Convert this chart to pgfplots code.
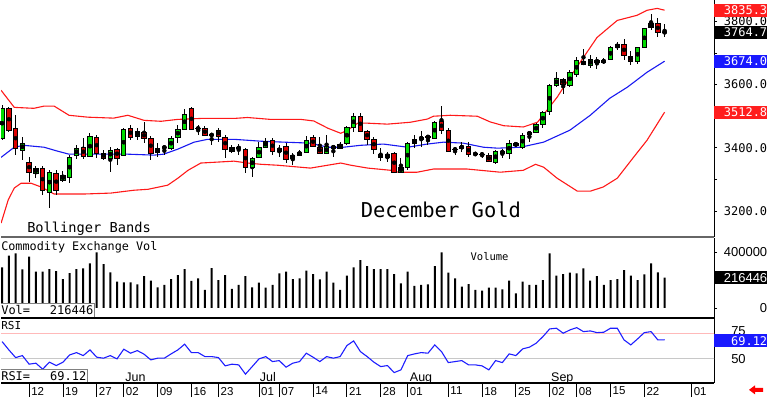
\documentclass[border=0pt]{standalone}
\usepackage{pgfplots}
\usepackage{pgfplotstable}
\pgfplotsset{compat=1.18}
\usepackage{fontspec}
\setmainfont{Liberation Sans}
\newfontfamily\mono{DejaVu Sans Mono}
\definecolor{cgreen}{RGB}{0,220,0}
\definecolor{cred}{RGB}{220,0,0}
\definecolor{bandred}{RGB}{255,25,25}
\definecolor{bandblue}{RGB}{25,25,240}
\definecolor{rsiblue}{RGB}{30,30,255}
\definecolor{boxred}{RGB}{255,30,30}
\definecolor{boxblue}{RGB}{25,25,255}
\definecolor{pinkline}{RGB}{255,185,185}
\definecolor{grayline}{RGB}{200,200,200}

\pgfplotstableread{
i o h l c
0 3430.5 3534.7 3424.2 3525.2
1 3525.2 3528.4 3449.4 3455.8
2 3462.1 3503.1 3376.8 3398.9
3 3392.6 3433.7 3361.0 3414.7
4 3354.7 3370.5 3291.5 3323.1
5 3320.0 3341.5 3304.2 3335.8
6 3335.8 3342.1 3250.5 3266.3
7 3260.0 3329.4 3209.4 3323.1
8 3320.0 3329.4 3250.5 3266.3
9 3297.9 3326.3 3291.5 3313.6
10 3307.3 3376.8 3288.4 3370.5
11 3376.8 3408.4 3364.2 3398.9
12 3402.1 3430.5 3364.2 3373.7
13 3373.7 3446.3 3370.5 3436.8
14 3433.7 3440.0 3367.3 3383.1
15 3383.1 3392.6 3361.0 3367.3
16 3367.3 3402.1 3323.1 3392.6
17 3395.8 3398.9 3345.2 3367.3
18 3376.8 3462.1 3373.7 3458.9
19 3462.1 3471.6 3424.2 3433.7
20 3436.8 3462.1 3424.2 3452.6
21 3449.4 3481.0 3414.7 3430.5
22 3430.5 3436.8 3361.0 3383.1
23 3386.3 3414.7 3370.5 3398.9
24 3402.1 3405.2 3376.8 3400.5
25 3398.9 3436.8 3392.6 3430.5
26 3433.7 3471.6 3414.7 3458.9
27 3458.9 3522.1 3455.8 3506.3
28 3525.2 3528.4 3455.8 3458.9
29 3460.5 3471.6 3440.0 3462.1
30 3462.1 3468.4 3436.8 3440.0
31 3441.6 3446.3 3408.4 3440.0
32 3455.8 3462.1 3417.9 3436.8
33 3433.7 3440.0 3367.3 3395.8
34 3389.4 3408.4 3383.1 3402.1
35 3400.5 3411.5 3376.8 3398.9
36 3395.8 3398.9 3320.0 3339.0
37 3339.0 3370.5 3307.3 3367.3
38 3370.5 3417.9 3367.3 3402.1
39 3402.1 3430.5 3398.9 3421.0
40 3424.2 3430.5 3376.8 3389.4
41 3389.4 3408.4 3370.5 3398.9
42 3405.2 3414.7 3351.5 3364.2
43 3367.3 3383.1 3345.2 3376.8
44 3376.8 3392.6 3373.7 3386.3
45 3386.3 3436.8 3383.1 3424.2
46 3433.7 3440.0 3402.1 3405.2
47 3402.1 3433.7 3380.0 3383.1
48 3383.1 3440.0 3380.0 3405.2
49 3405.2 3408.4 3370.5 3398.9
50 3398.9 3417.9 3395.8 3411.5
51 3414.7 3468.4 3408.4 3465.2
52 3465.2 3509.4 3449.4 3500.0
53 3500.0 3509.4 3449.4 3452.6
54 3452.6 3455.8 3408.4 3427.3
55 3427.3 3433.7 3380.0 3395.8
56 3380.0 3398.9 3357.9 3370.5
57 3370.5 3386.3 3354.7 3380.0
58 3383.1 3386.3 3320.0 3323.1
59 3323.1 3367.3 3320.0 3339.0
60 3339.0 3417.9 3329.4 3414.7
61 3414.7 3440.0 3398.9 3427.3
62 3427.3 3452.6 3402.1 3433.7
63 3435.2 3440.0 3408.4 3433.7
64 3430.5 3484.2 3427.3 3481.0
65 3484.2 3531.6 3443.1 3455.8
66 3455.8 3462.1 3386.3 3389.4
67 3394.2 3402.1 3376.8 3395.8
68 3398.9 3417.9 3386.3 3405.2
69 3405.2 3417.9 3370.5 3380.0
70 3381.6 3386.3 3373.7 3380.0
71 3380.0 3386.3 3367.3 3378.4
72 3376.8 3383.1 3354.7 3357.9
73 3354.7 3392.6 3348.4 3389.4
74 3383.1 3395.8 3367.3 3389.4
75 3383.1 3424.2 3364.2 3414.7
76 3408.4 3417.9 3402.1 3414.7
77 3402.1 3446.3 3395.8 3440.0
78 3443.1 3452.6 3417.9 3449.4
79 3449.4 3477.9 3446.3 3474.7
80 3474.7 3515.8 3462.1 3512.6
81 3515.8 3601.0 3503.1 3597.9
82 3597.9 3638.9 3591.6 3620.0
83 3616.8 3620.0 3569.4 3601.0
84 3597.9 3645.2 3591.6 3638.9
85 3632.6 3686.3 3623.1 3676.8
86 3673.7 3711.6 3661.0 3664.2
87 3661.0 3692.6 3651.6 3680.0
88 3670.5 3686.3 3648.4 3676.8
89 3670.5 3683.1 3664.2 3676.8
90 3680.0 3721.0 3676.8 3717.9
91 3717.9 3733.7 3708.4 3727.4
92 3727.4 3743.1 3676.8 3692.6
93 3689.5 3705.2 3661.0 3673.7
94 3673.7 3720.0 3664.2 3717.9
95 3717.9 3779.0 3714.7 3777.9
96 3781.0 3822.1 3771.6 3793.7
97 3793.7 3809.5 3749.5 3765.3
98 3766.3 3790.5 3749.5 3764.7
}\candles

\pgfplotstableread{
i v
-0.15 3582
1.8 3528
4.7 3525
6.2 3532
7.7 3532
9.9 3503
12.7 3497
16.5 3494
18.6 3503
19.5 3497
21 3487
23.5 3484
26 3490
29.4 3493
34.3 3493
36.3 3496
39.7 3490
44.2 3490
46.1 3485
48.2 3462
50.1 3446
51.1 3456
52.6 3478
54.1 3478
57 3475
60.4 3481
62.9 3491
63.8 3500
66.3 3503
70.3 3500
72.2 3482
74.2 3470
77.1 3466
79.2 3481
80.6 3519
82.1 3560
84 3623
86 3686
88 3749
91 3803
93.9 3819
95.4 3835
96.9 3841
98 3835.3
}\bbup

\pgfplotstableread{
i v
-0.15 3370
1.8 3402
3.2 3408
6.2 3402
8.3 3389
9.9 3380
14.6 3380
18.6 3380
22.5 3377
23.9 3380
26 3396
28.4 3418
30.4 3427
34.3 3427
38.3 3421
41.7 3418
45.6 3415
48.2 3402
50.5 3402
53 3408
56.4 3412
60 3402
62.9 3412
65.3 3418
68.2 3415
71.2 3402
73.3 3399
76.7 3402
80.1 3418
84 3456
87 3503
89.9 3557
92.5 3592
95.4 3639
98 3674
}\bbmid

\pgfplotstableread{
i v
-0.15 3162
0.9 3235
1.8 3273
2.8 3288
4.3 3288
5.8 3276
7.7 3254
12.1 3254
16.1 3257
19.5 3266
21.6 3269
24.5 3282
26 3304
27.5 3329
29.4 3352
31.9 3355
34.3 3358
36.3 3352
38.3 3348
40.8 3345
45.6 3336
50.1 3352
51.6 3345
54.1 3336
57.5 3329
58.6 3323
61.4 3323
63.8 3333
68.8 3333
73.7 3323
77.1 3329
78.9 3348
80.1 3339
82.1 3304
85.1 3263
87 3263
88.9 3276
91 3304
93.4 3370
95.4 3424
98 3512.8
}\bblow

\pgfplotstableread{
i v
0 290700
1 373600
2 390700
3 276400
4 366400
5 259300
6 259300
7 278600
8 264300
9 207100
10 250000
11 278600
12 283600
13 319300
14 397900
15 314300
16 255000
17 187900
18 183600
19 183600
20 169300
21 228600
22 195000
23 147900
24 164300
25 207100
26 235700
27 278600
28 192900
29 212100
30 128600
31 285700
32 200000
33 235700
34 135700
35 164300
36 228600
37 147900
38 180700
39 145000
40 164300
41 247900
42 259300
43 207100
44 212100
45 266400
46 242900
47 205000
48 259300
49 180700
50 128600
51 230700
52 290700
53 342900
54 300000
55 278600
56 278600
57 278600
58 242900
59 176400
60 259300
61 157100
62 164300
63 169300
64 300000
65 397900
66 252100
67 212100
68 152100
69 171400
70 128600
71 123600
72 145000
73 145000
74 133600
75 195000
76 105000
77 187900
78 164300
79 164300
80 200000
81 390700
82 230700
83 242900
84 252100
85 247900
86 283600
87 195000
88 228600
89 164300
90 200000
91 207100
92 271400
93 230700
94 200000
95 240700
96 319300
97 255000
98 216446
}\voltab

\pgfplotstableread{
i r
0 67.3
1 59
2 51.3
3 53.3
4 44.7
5 45.7
6 39.7
7 46.7
8 43.3
9 46.7
10 54
11 56.3
12 53.3
13 59
14 51.7
15 50.7
16 53.3
17 50
18 59.7
19 55.7
20 58.3
21 54.7
22 49
23 50.7
24 50.7
25 55
26 59
27 64.7
28 56.3
29 56.3
30 52.3
31 52.3
32 51.3
33 43
34 44.7
35 44
36 34.7
37 42.3
38 50
39 52.3
40 47.3
41 48.3
42 41.7
43 45.7
44 47.3
45 55.7
46 51.7
47 47.3
48 52.3
49 50.7
50 52.3
51 63.3
52 68
53 57.3
54 52.3
55 46.7
56 42.3
57 43.3
58 36.3
59 39
60 53.3
61 55
62 56.3
63 55.7
64 64
65 57.3
66 46.3
67 47.3
68 48.3
69 44
70 44
71 43
72 39
73 48.3
74 46.3
75 55
76 53.3
77 60
78 61.7
79 65.7
80 72.3
81 80
82 80.7
83 75.7
84 79
85 81.3
86 77.3
87 78
88 76.3
89 76.7
90 80.7
91 80.7
92 69
93 64
94 70
95 76.3
96 77.3
97 69
98 69.12
}\rsitab

\tikzset{rlabel/.style={inner sep=0pt, anchor=west, minimum height=13pt, text width=53pt, align=right}}

\begin{document}
\begin{tikzpicture}[x=1pt,y=1pt]
\path (0,0) rectangle (768,397);
\pgfplotsset{
  panel/.style={scale only axis, width=714pt, xmin=-0.148, xmax=105.32,
    anchor=south west, clip mode=individual,
    axis x line*=bottom, axis y line*=right,
    x axis line style={-}, y axis line style={-, black, line width=0.8pt},
    xtick=\empty, tick align=outside, major tick length=3pt, minor tick length=3pt,
    tick style={black, line width=0.8pt}},
}
% ---------------- price panel
\begin{axis}[panel, at={(0pt,160pt)}, height=237pt, ymin=3117.9, ymax=3866.3,
  x axis line style={-, line width=2.2pt, draw=black!60},
  ytick={3200,3400,3600,3800}, minor ytick={3300,3500,3700},
  yticklabels={3200.0,3400.0,3600.0,3800.0},
  yticklabel style={font=\mono\fontsize{12}{12}\selectfont, anchor=west, inner sep=0pt, text width=50pt, align=right}]
\addplot[bandred, line width=1.1pt] table[x=i,y=v]{\bbup};
\addplot[bandred, line width=1.1pt] table[x=i,y=v]{\bblow};
\addplot[bandblue, line width=1.1pt] table[x=i,y=v]{\bbmid};
% wicks
\addplot[only marks, mark=none, error bars/.cd, y dir=both, y explicit, error mark=none,
  error bar style={black, line width=1pt}]
  table[x=i, y expr={(\thisrow{h}+\thisrow{l})/2}, y error expr={(\thisrow{h}-\thisrow{l})/2}]{\candles};
% body outlines
\addplot[only marks, mark=none, error bars/.cd, y dir=both, y explicit, error mark=none,
  error bar style={black, line width=5.4pt}]
  table[x=i, y expr={(\thisrow{o}+\thisrow{c})/2}, y error expr={abs(\thisrow{o}-\thisrow{c})/2+1.6}]{\candles};
% green bodies
\addplot[only marks, mark=none, error bars/.cd, y dir=both, y explicit, error mark=none,
  error bar style={cgreen, line width=3.4pt}]
  table[x=i, y expr={(\thisrow{o}+\thisrow{c})/2}, y error expr={(\thisrow{c}>=\thisrow{o})*max(abs(\thisrow{o}-\thisrow{c})/2-1.6,1)}]{\candles};
% red bodies
\addplot[only marks, mark=none, error bars/.cd, y dir=both, y explicit, error mark=none,
  error bar style={cred, line width=3.4pt}]
  table[x=i, y expr={(\thisrow{o}+\thisrow{c})/2}, y error expr={(\thisrow{c}<\thisrow{o})*max(abs(\thisrow{o}-\thisrow{c})/2-1.6,1)}]{\candles};
\node[rlabel, fill=boxred, text=white, font=\mono\fontsize{12}{12}\selectfont] at (axis cs:105.32,3835.3) {3835.3};
\node[rlabel, fill=black, text=white, font=\mono\fontsize{12}{12}\selectfont] at (axis cs:105.32,3764.7) {3764.7};
\node[rlabel, fill=boxblue, text=white, font=\mono\fontsize{12}{12}\selectfont] at (axis cs:105.32,3674.0) {3674.0};
\node[rlabel, fill=boxred, text=white, font=\mono\fontsize{12}{12}\selectfont] at (axis cs:105.32,3512.8) {3512.8};
\end{axis}
% ---------------- volume panel
\begin{axis}[panel, at={(0pt,79pt)}, height=80pt, ymin=-71429, ymax=500000,
  x axis line style={-, line width=1.4pt, black},
  scaled y ticks=false, ytick={0,400000}, yticklabels={0,400000},
  yticklabel style={font=\fontsize{13}{13}\selectfont, anchor=west, inner sep=0pt, text width=50pt, align=right}]
\addplot[ybar, bar width=2pt, fill=black, draw=none] table[x=i,y=v]{\voltab};
\node[rlabel, fill=black, text=white, font=\fontsize{13}{13}\selectfont] at (axis cs:105.32,216446) {216446};
\end{axis}
% ---------------- RSI panel
\begin{axis}[panel, at={(0pt,14pt)}, height=65pt, ymin=26, ymax=91,
  x axis line style={-, line width=1.4pt, black},
  ytick=\empty, major tick length=14pt,
  xtick={4,9,14,18,23,28,32,38,41,46,51,56,60,66,71,76,81,85,90,95,102},
  xticklabels={12,19,27,02,09,16,23,01,07,14,21,28,01,11,18,25,02,08,15,22,01},
  xtick style={black, line width=0.8pt},
  xticklabel style={font=\fontsize{11.5}{11.5}\selectfont, anchor=north west, inner sep=0pt, xshift=2pt, yshift=10pt}]
\addplot[pinkline, line width=0.9pt] coordinates {(-1,75) (106,75)};
\addplot[grayline, line width=0.9pt] coordinates {(-1,50) (106,50)};
\addplot[rsiblue, line width=1.1pt] table[x=i,y=r]{\rsitab};
\node[anchor=west, inner sep=0pt, font=\fontsize{13}{13}\selectfont, xshift=17pt, yshift=3pt] at (axis cs:105.32,75) {75};
\node[anchor=west, inner sep=0pt, font=\fontsize{13}{13}\selectfont, xshift=17pt] at (axis cs:105.32,50) {50};
\node[rlabel, fill=boxblue, text=white, font=\mono\fontsize{12}{12}\selectfont] at (axis cs:105.32,68) {69.12};
\node[anchor=base west, inner sep=0pt, font=\fontsize{12.5}{12.5}\selectfont] at (axis cs:18.2,27.5) {Jun};
\node[anchor=base west, inner sep=0pt, font=\fontsize{12.5}{12.5}\selectfont] at (axis cs:38.1,27.5) {Jul};
\node[anchor=base west, inner sep=0pt, font=\fontsize{12.5}{12.5}\selectfont] at (axis cs:60.3,27.5) {Aug};
\node[anchor=base west, inner sep=0pt, font=\fontsize{12.5}{12.5}\selectfont] at (axis cs:81.2,27.5) {Sep};
\end{axis}
% ---------------- texts and boxes
\node[anchor=base west, inner sep=0pt, font=\mono\fontsize{13.7}{13.7}\selectfont] at (26,164.5) {Bollinger Bands};
\node[anchor=base west, inner sep=0pt, font=\mono\fontsize{20.5}{20.5}\selectfont] at (360,179.5) {December Gold};
\node[anchor=base west, inner sep=0pt, font=\mono\fontsize{11.8}{11.8}\selectfont] at (0,147) {Commodity Exchange Vol};
\node[anchor=base west, inner sep=0pt, font=\mono\fontsize{10.5}{10.5}\selectfont] at (470,137) {Volume};
\fill[white] (0,79.7) rectangle (93,94);
\draw[black!50, line width=0.8pt] (0,94) -- (93,94) -- (93,79.7);
\node[anchor=base west, inner sep=0pt, font=\mono\fontsize{12}{12}\selectfont] at (0,82.5) {Vol=};
\node[anchor=base east, inner sep=0pt, font=\mono\fontsize{12}{12}\selectfont] at (92.5,82.5) {216446};
\node[anchor=base west, inner sep=0pt, font=\mono\fontsize{11}{11}\selectfont] at (0,67) {RSI};
\fill[white] (0,14.7) rectangle (86,27);
\draw[black!50, line width=0.8pt] (0,27) -- (86,27) -- (86,14.7);
\node[anchor=base west, inner sep=0pt, font=\mono\fontsize{12}{12}\selectfont] at (0,16) {RSI=};
\node[anchor=base east, inner sep=0pt, font=\mono\fontsize{12}{12}\selectfont] at (85.5,16) {69.12};
\fill[red] (749,7) -- (755,11.5) -- (755,9) -- (763,9) -- (763,5) -- (755,5) -- (755,2.5) -- cycle;
\end{tikzpicture}
\end{document}
